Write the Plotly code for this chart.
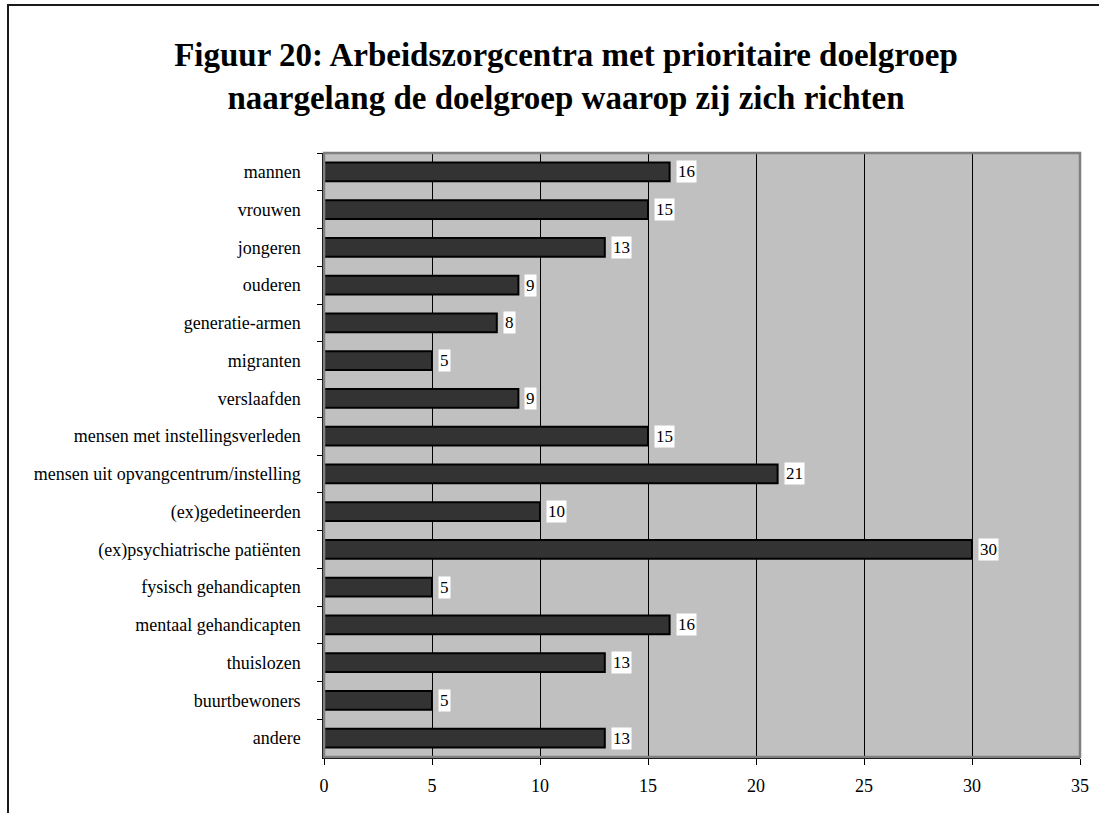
import plotly.graph_objects as go

categories = ["mannen", "vrouwen", "jongeren", "ouderen", "generatie-armen", "migranten",
              "verslaafden", "mensen met instellingsverleden",
              "mensen uit opvangcentrum/instelling", "(ex)gedetineerden",
              "(ex)psychiatrische patiënten", "fysisch gehandicapten",
              "mentaal gehandicapten", "thuislozen", "buurtbewoners", "andere"]
values = [16, 15, 13, 9, 8, 5, 9, 15, 21, 10, 30, 5, 16, 13, 5, 13]
x_ticks = [0, 5, 10, 15, 20, 25, 30, 35]
title_text = ("<b>Figuur 20: Arbeidszorgcentra met prioritaire doelgroep<br>"
              "naargelang de doelgroep waarop zij zich richten</b>")

FONT = "Liberation Serif, Times New Roman, serif"
W, H = 1099, 813
L, R, T, B = 324, 19, 153, 56
pw, ph = W - L - R, H - T - B

fig = go.Figure()
fig.add_trace(go.Bar(
    x=values, y=categories, orientation="h",
    marker=dict(color="#333333", line=dict(color="#000000", width=2)),
    width=0.5, hoverinfo="x+y",
))

for c, v in zip(categories, values):
    fig.add_annotation(x=v, y=c, text=str(v), showarrow=False, xanchor="left",
                       xshift=6, bgcolor="white", borderpad=1,
                       font=dict(family=FONT, size=17, color="black"))

# plot area border (gray)
fig.add_shape(type="rect", xref="paper", yref="paper", x0=0, x1=1, y0=0, y1=1,
              line=dict(color="#808080", width=2.5), layer="above")
# outer chart border
fig.add_shape(type="rect", xref="paper", yref="paper",
              x0=(8 - L) / pw, x1=1.2, y0=-0.3, y1=(H - B - 5) / ph,
              line=dict(color="#1a1a1a", width=2), layer="above")

fig.update_layout(
    width=W, height=H,
    margin=dict(l=L, r=R, t=T, b=B, autoexpand=False),
    paper_bgcolor="white", plot_bgcolor="#C0C0C0",
    showlegend=False,
    title=dict(text=title_text, x=566 / W, xanchor="center", xref="container",
               y=1 - 66 / H, yanchor="middle",
               font=dict(family=FONT, size=33, color="black")),
    font=dict(family=FONT, size=18, color="black"),
    bargap=0.5,
)
fig.update_xaxes(range=[0, 35], tickvals=x_ticks, showgrid=True, gridcolor="#000000",
                 gridwidth=1, zeroline=False, showline=True, linecolor="#000000",
                 linewidth=1.5, ticks="outside", ticklen=6, tickcolor="#000000",
                 ticklabelstandoff=6,
                 tickfont=dict(family=FONT, size=18, color="black"), fixedrange=True)
fig.update_yaxes(autorange="reversed", showgrid=False, showline=True,
                 linecolor="#000000", linewidth=1.5, ticks="outside", ticklen=5,
                 tickson="boundaries", tickcolor="#000000", ticklabelstandoff=18,
                 tickfont=dict(family=FONT, size=18, color="black"), fixedrange=True)

fig.write_html("out.html")
